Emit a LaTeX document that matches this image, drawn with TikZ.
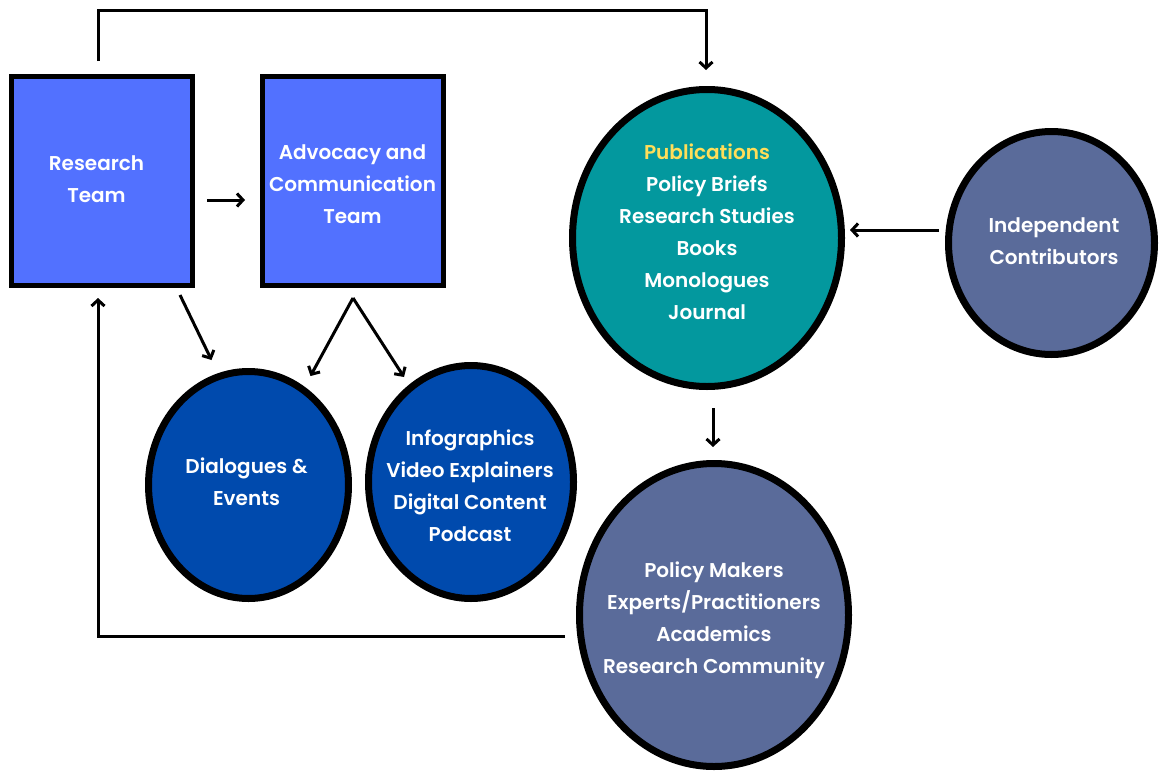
\documentclass[tikz,border=0pt]{standalone}
\usepackage{fontspec}
\setmainfont{Poppins}[BoldFont=* SemiBold]
\usetikzlibrary{shapes.geometric,arrows.meta}
\definecolor{boxblue}{HTML}{5271FF}
\definecolor{teal}{HTML}{03989E}
\definecolor{slate}{HTML}{5A6B9A}
\definecolor{deepblue}{HTML}{004AAD}
\definecolor{pubyellow}{HTML}{FFDE59}
\tikzset{
  teambox/.style={draw=black, line width=5pt, fill=boxblue, rectangle, inner sep=0pt,
    minimum width=181pt, minimum height=209pt},
  oval/.style={draw=black, line width=7pt, ellipse, inner sep=0pt},
  txt/.style={text=white, align=center, inner sep=0pt,
    font=\fontsize{20}{32}\selectfont\bfseries},
  arr/.style={line width=3pt, -{Straight Barb[length=6pt,width=13pt]}}
}
\begin{document}
\begin{tikzpicture}[x=1pt,y=-1pt]
\useasboundingbox[fill=white] (0,0) rectangle (1162,771);
\node[teambox] (rt) at (102,181) {};
\node[txt] (rtt) at (96.5,179) {Research\\Team};
\node[teambox] (adv) at (353,181) {};
\node[txt] (advt) at (352.5,184.5) {Advocacy and\\Communication\\Team};
\node[oval, fill=teal, minimum width=269pt, minimum height=297pt] (pub) at (707,238) {};
\node[txt] (pubt) at (707,231.5)
  {\textcolor{pubyellow}{Publications}\\Policy Briefs\\Research Studies\\Books\\Monologues\\Journal};
\node[oval, fill=slate, minimum width=206pt, minimum height=223pt] (ind) at (1051.5,243) {};
\node[txt] (indt) at (1054,241) {Independent\\Contributors};
\node[oval, fill=deepblue, minimum width=200pt, minimum height=227pt] (dia) at (248.5,485) {};
\node[txt] (diat) at (246.5,481.5) {Dialogues \&\\Events};
\node[oval, fill=deepblue, minimum width=205pt, minimum height=233pt] (inf) at (471,482) {};
\node[txt] (inft) at (470,486) {Infographics\\Video Explainers\\Digital Content\\Podcast};
\node[oval, fill=slate, minimum width=269pt, minimum height=303pt] (pol) at (714,615) {};
\node[txt] (polt) at (714,620.5) {Policy Makers\\Experts/Practitioners\\Academics\\Research Community};
% connectors
\draw[arr] ([xshift=-4pt,yshift=13pt]rt.north) -- ++(0,-51) -| ([xshift=-1pt,yshift=16pt]pub.north);
\draw[arr] ([xshift=12pt,yshift=-19pt]rt.east) -- ([xshift=-15pt,yshift=-19pt]adv.west);
\draw[arr] ([xshift=78pt,yshift=-7pt]rt.south) -- ([shift={(-37pt,125pt)}]dia.center);
\coordinate (apex) at ([yshift=-10pt]adv.south);
\draw[arr] (apex) -- ([shift={(-160.5pt,106pt)}]inf.center);
\draw[arr] (apex) -- ([shift={(-67pt,105pt)}]inf.center);
\draw[arr] ([xshift=-6pt,yshift=13pt]ind.west) -- ([xshift=5pt,yshift=8pt]pub.east);
\draw[arr] ([xshift=6pt,yshift=-18pt]pub.south) -- ([xshift=-1pt,yshift=13pt]pol.north);
\draw[arr] ([xshift=-11pt,yshift=-21pt]pol.west) -| ([xshift=-4pt,yshift=-10pt]rt.south);
\end{tikzpicture}
\end{document}
